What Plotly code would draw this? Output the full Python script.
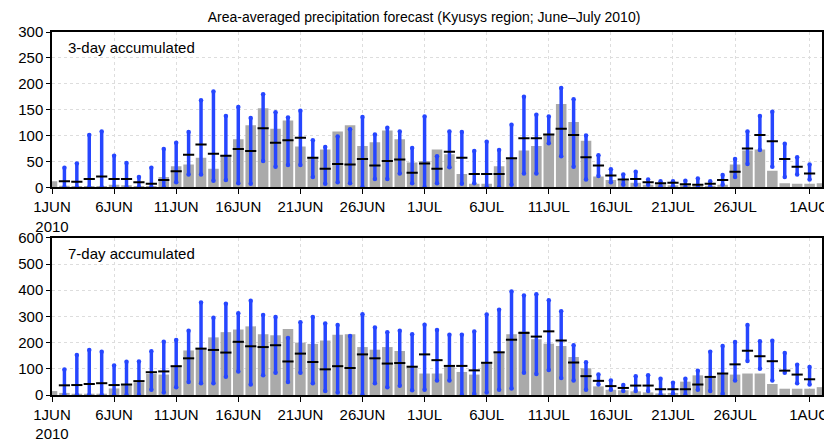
import datetime

import numpy as np
import plotly.graph_objects as go


def add_panel(fig, obs, mean, lo, hi, yaxis_id, label):

    days = [datetime.date(2010, 6, 1) + datetime.timedelta(days=i) for i in range(len(obs))]
    edays = days[1:1 + len(mean)]
    lo = np.array(lo, dtype=float)
    hi = np.array(hi, dtype=float)
    xid = "x" if yaxis_id == "y" else "x2"

    fig.add_trace(go.Bar(x=days, y=obs, width=0.85 * 86400000, marker={"color": "#aaaaaa", "line": {"width": 0}},
                         xaxis=xid, yaxis=yaxis_id, showlegend=False))
    # ensemble spread
    fig.add_trace(go.Bar(x=edays, y=hi - lo, base=lo, width=0.28 * 86400000, marker={"color": "#2646ff", "line": {"width": 0}},
                         xaxis=xid, yaxis=yaxis_id, showlegend=False))
    fig.add_trace(go.Scatter(x=edays + edays, y=list(lo) + list(hi), mode="markers",
                             marker={"size": 4.5, "color": "#2646ff"},
                             xaxis=xid, yaxis=yaxis_id, showlegend=False))
    # ensemble mean
    fig.add_trace(go.Scatter(x=edays, y=mean, mode="markers",
                             marker={"symbol": "line-ew", "size": 8, "line": {"width": 2, "color": "black"}},
                             xaxis=xid, yaxis=yaxis_id, showlegend=False))
    ydom = fig.layout["yaxis" if yaxis_id == "y" else "yaxis2"].domain
    fig.add_annotation(text=label, xref="paper", yref="paper", x=0.018, y=ydom[1] - 0.015,
                       xanchor="left", yanchor="top", showarrow=False, font={"size": 15})


obs3 = [12, 3, 1, 1, 1, 5, 4, 2, 1, 20, 41, 44, 57, 36, 62, 93, 120, 153, 113, 129, 79, 57, 73, 108, 120, 80, 87, 110, 93, 48,
        51, 73, 64, 26, 7, 7, 41, 57, 71, 80, 102, 161, 126, 90, 21, 14, 13, 9, 5, 6, 4, 4, 3, 3, 5, 44, 71, 73, 32, 8, 7, 7, 8]
mean3 = [12, 11, 16, 21, 16, 16, 10, 7, 14, 31, 63, 83, 65, 61, 74, 70, 114, 86, 91, 96, 57, 36, 45, 44, 55, 42, 51, 54, 28,
         46, 36, 69, 57, 26, 26, 26, 56, 95, 95, 102, 113, 101, 58, 42, 23, 15, 16, 10, 8, 9, 6, 5, 7, 14, 30, 75, 101, 89, 55, 40, 27]
lo3 = [0, 0, 0, 0, 0, 0, 0, 0, 0, 10, 25, 25, 13, 14, 8, 7, 51, 40, 43, 43, 20, 7, 10, 8, 0, 16, 16, 27, 8,
       0, 8, 39, 7, 8, 0, 0, 5, 27, 27, 85, 60, 40, 15, 22, 10, 5, 5, 5, 2, 2, 0, 0, 2, 5, 20, 45, 72, 40, 20, 25, 15]
hi3 = [38, 46, 101, 108, 61, 47, 20, 38, 74, 86, 107, 168, 185, 138, 155, 134, 180, 145, 135, 148, 91, 78, 98, 112, 136, 102, 115, 108, 76,
       137, 60, 108, 107, 70, 88, 72, 121, 175, 140, 137, 192, 170, 100, 62, 35, 25, 30, 15, 12, 12, 13, 17, 12, 24, 55, 108, 138, 146, 84, 58, 44]

obs7 = [15, 8, 5, 5, 5, 25, 40, 48, 80, 78, 110, 170, 178, 220, 240, 250, 262, 232, 228, 252, 200, 195, 208, 230, 232, 183, 173, 183, 168, 108,
        82, 82, 108, 88, 78, 123, 163, 232, 243, 213, 196, 187, 145, 102, 33, 20, 18, 14, 10, 6, 8, 51, 75, 72, 82, 78, 82, 82, 42, 24, 24, 24, 30]
mean7 = [37, 38, 42, 45, 38, 40, 53, 87, 90, 110, 140, 177, 172, 162, 203, 186, 183, 190, 128, 158, 126, 98, 110, 103, 155, 140, 120, 122, 108,
         155, 133, 111, 111, 94, 123, 163, 211, 237, 223, 243, 208, 124, 72, 54, 34, 27, 36, 36, 22, 22, 22, 40, 69, 82, 117, 169, 148, 129, 93, 78, 60]
lo7 = [0, 0, 0, 0, 0, 0, 0, 20, 10, 30, 50, 45, 45, 70, 90, 40, 75, 85, 50, 85, 45, 15, 10, 10, 0, 45, 30, 35, 18,
       20, 55, 55, 0, 5, 10, 20, 25, 85, 80, 95, 65, 55, 20, 40, 20, 15, 15, 15, 0, 5, 0, 20, 15, 5, 55, 130, 100, 55, 85, 45, 40]
hi7 = [97, 153, 172, 165, 113, 127, 128, 167, 203, 210, 245, 353, 295, 348, 312, 360, 305, 298, 218, 278, 298, 273, 267, 225, 308, 258, 240, 245, 232,
       268, 248, 230, 230, 242, 307, 325, 395, 380, 385, 362, 320, 190, 125, 78, 55, 38, 72, 75, 62, 47, 62, 93, 165, 187, 202, 267, 205, 207, 160, 115, 107]

tickdays = [datetime.date(2010, 6, d) for d in (1, 6, 11, 16, 21, 26)] + \
           [datetime.date(2010, 7, d) for d in (1, 6, 11, 16, 21, 26)] + [datetime.date(2010, 8, 1)]
ticktext = [d.strftime("%-d%b").upper() for d in tickdays]
ticktext[0] = "1JUN<br>2010"

xcommon = {"type": "date", "range": ["2010-06-01", "2010-08-02"], "tickvals": tickdays, "ticktext": ticktext,
           "ticks": "outside", "ticklen": 5, "tickcolor": "black", "showline": True, "linecolor": "black", "linewidth": 1.5,
           "mirror": True, "showgrid": True, "gridcolor": "#dddddd", "griddash": "dot", "tickfont": {"size": 15}}
ycommon = {"ticks": "outside", "ticklen": 4, "tickcolor": "black", "showline": True, "linecolor": "black", "linewidth": 1.5,
           "mirror": True, "showgrid": True, "gridcolor": "#dddddd", "griddash": "dot", "zeroline": False, "tickfont": {"size": 15}}

fig = go.Figure()
fig.update_layout(
    width=832, height=444, margin={"l": 38, "r": 10, "t": 24, "b": 37},
    plot_bgcolor="white", paper_bgcolor="white", barmode="overlay",
    font={"family": "Liberation Sans, Arial, sans-serif", "color": "black"},
    title={"text": "Area-averaged precipitation forecast (Kyusys region; June\u2013July 2010)", "x": 0.5, "y": 0.99,
           "xanchor": "center", "yanchor": "top", "font": {"size": 14}},
    xaxis={**xcommon, "domain": [0, 1], "anchor": "y"},
    xaxis2={**xcommon, "domain": [0, 1], "anchor": "y2"},
    yaxis={**ycommon, "domain": [0.572, 1], "range": [0, 300], "dtick": 50, "anchor": "x"},
    yaxis2={**ycommon, "domain": [0, 0.433], "range": [0, 600], "dtick": 100, "anchor": "x2"},
)

add_panel(fig, obs3, mean3, lo3, hi3, "y", "3-day accumulated")
add_panel(fig, obs7, mean7, lo7, hi7, "y2", "7-day accumulated")

fig.write_html("out.html")
